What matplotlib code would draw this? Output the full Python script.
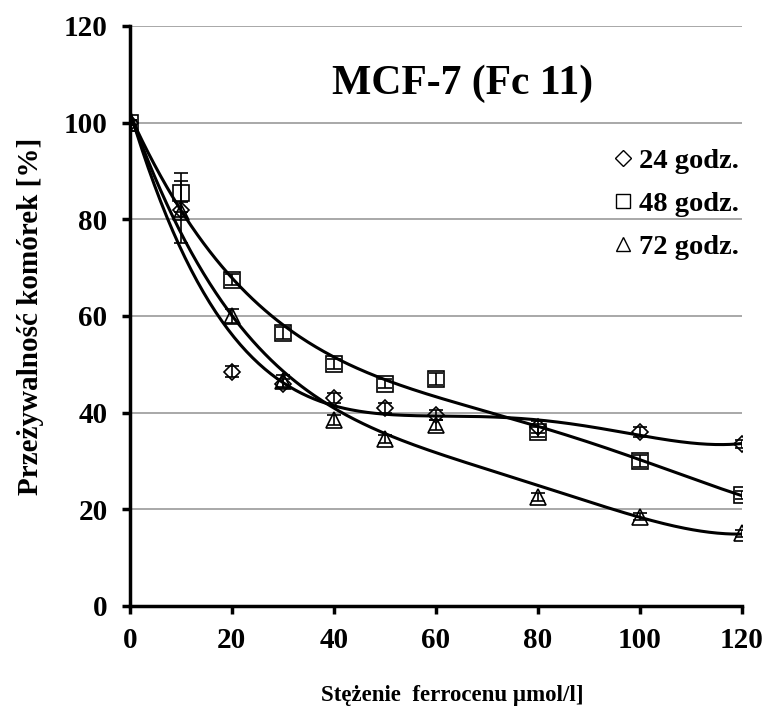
import numpy as np
import matplotlib.pyplot as plt

plt.rcParams['font.family'] = ['Liberation Serif', 'DejaVu Serif']
plt.rcParams['font.weight'] = 'bold'

# concentration of ferrocene [umol/l]
stezenie = [0, 10, 20, 30, 40, 50, 60, 80, 100, 120]

# cell viability [%]
godz24 = [100, 82, 48.5, 46, 43, 41, 39.5, 37, 36, 33.5]
godz48 = [100, 85.5, 67.5, 56.5, 50, 46, 47, 36, 30, 23]
godz72 = [100, 81.5, 60, 46.5, 38.5, 34.5, 37.5, 22.5, 18.5, 15]

err24 = [0.5, 1.5, 1.2, 1.0, 1.0, 1.0, 1.0, 1.2, 1.0, 0.8]
err48 = [0.5, 4.0, 1.2, 1.2, 1.0, 1.0, 1.2, 1.0, 1.2, 0.8]
err72 = [0.5, 6.5, 1.5, 1.2, 1.0, 0.8, 1.0, 0.8, 0.8, 0.8]

etykiety = ['24 godz.', '48 godz.', '72 godz.']
markery = ['D', 's', '^']

fig = plt.figure(figsize=(7.68, 7.18), dpi=100)
ax = fig.add_axes([0.169, 0.156, 0.797, 0.808])

xs = np.linspace(0, 120, 300)
for y, e, m, lab in zip([godz24, godz48, godz72], [err24, err48, err72], markery, etykiety):
    # polynomial trend line like in excel
    wsp = np.polyfit(stezenie, y, 4)
    ax.plot(xs, np.polyval(wsp, xs), color='black', lw=2.2, zorder=3)
    ms = 8 if m == 'D' else 11
    ax.errorbar(stezenie, y, yerr=e, fmt='none', ecolor='black', elinewidth=1.2,
                capsize=5, capthick=1.2, zorder=4)
    ax.plot(stezenie, y, m, ms=ms, mfc='none', mec='black', mew=1.2, zorder=5)

ax.set_xlim(0, 120)
ax.set_ylim(0, 120)
ax.set_xticks(range(0, 121, 20))
ax.set_yticks(range(0, 121, 20))
ax.yaxis.grid(True, color='#999999', lw=1.2)
ax.set_axisbelow(True)
for s in ['top', 'right']:
    ax.spines[s].set_visible(False)
for s in ['left', 'bottom']:
    ax.spines[s].set_linewidth(2.5)
ax.tick_params(labelsize=21, width=2.5, length=6)
ax.tick_params(axis='y', pad=10)
ax.tick_params(axis='x', pad=9)

ax.set_ylabel('Przeżywalność komórek [%]', fontsize=21, fontweight='bold', labelpad=14)
fig.text(0.589, 0.031, 'Stężenie  ferrocenu µmol/l]', fontsize=16.5, fontweight='bold',
         ha='center', va='center')

ax.text(0.543, 0.9, 'MCF-7 (Fc 11)', transform=ax.transAxes, fontsize=30,
        fontweight='bold', ha='center', va='center')

leg = ax.legend(handles=[plt.Line2D([], [], marker=m, ls='none', mfc='none', mec='black',
                                    ms=8 if m == 'D' else 10, mew=1.0) for m in markery],
                labels=etykiety, loc='upper right', bbox_to_anchor=(0.995, 0.79),
                frameon=False, fontsize=20.5, handlelength=0.6, handletextpad=0.25,
                labelspacing=0.6, borderaxespad=0, borderpad=0)
for t in leg.get_texts():
    t.set_fontweight('bold')

fig.savefig('out.png', dpi=100)
